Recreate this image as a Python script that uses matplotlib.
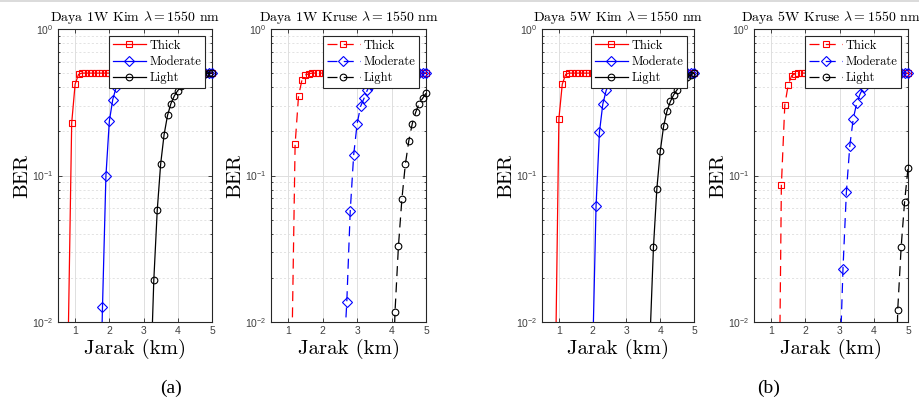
import numpy as np
import matplotlib
matplotlib.use('Agg')
from matplotlib import pyplot as plt
from matplotlib.lines import Line2D
from matplotlib.ticker import LogLocator, NullFormatter

plt.rcParams['font.family'] = ['Liberation Sans', 'DejaVu Sans']
plt.rcParams['axes.unicode_minus'] = True

# jarak (km), shared sampling grid; every series ends at 5.0 km
jarak = [0.5, 0.6, 0.7, 0.8, 0.9, 1.0, 1.1, 1.2, 1.3, 1.4,
         1.5, 1.6, 1.7, 1.8, 1.9, 2.0, 2.1, 2.2, 2.3, 2.4,
         2.5, 2.6, 2.7, 2.8, 2.9, 3.0, 3.1, 3.2, 3.3, 3.4,
         3.5, 3.6, 3.7, 3.8, 3.9, 4.0, 4.1, 4.2, 4.3, 4.4,
         4.5, 4.6, 4.7, 4.8, 4.9, 5.0]

# --- Daya 1W, Kim (starts at 0.8 / 1.7 / 3.2 km)
thick_kim1 = [0.008, 0.228, 0.42, 0.49,
              0.5, 0.5, 0.5, 0.5, 0.5, 0.5, 0.5, 0.5, 0.5, 0.5,
              0.5, 0.5, 0.5, 0.5, 0.5, 0.5, 0.5, 0.5, 0.5, 0.5,
              0.5, 0.5, 0.5, 0.5, 0.5, 0.5, 0.5, 0.5, 0.5, 0.5,
              0.5, 0.5, 0.5, 0.5, 0.5, 0.5, 0.5, 0.5, 0.5]
moderate_kim1 = [0.0013, 0.0126, 0.099, 0.235, 0.33, 0.40, 0.44, 0.465, 0.48, 0.49, 0.495,
                 0.5, 0.5, 0.5, 0.5, 0.5, 0.5, 0.5, 0.5, 0.5, 0.5,
                 0.5, 0.5, 0.5, 0.5, 0.5, 0.5, 0.5, 0.5, 0.5, 0.5,
                 0.5, 0.5, 0.5]
light_kim1 = [0.0037, 0.0194, 0.058, 0.12, 0.19, 0.257, 0.31, 0.35, 0.38, 0.41,
              0.43, 0.45, 0.465, 0.475, 0.485, 0.49, 0.495, 0.5, 0.5]

# --- Daya 1W, Kruse (starts at 1.1 / 2.6 / 4.0 km)
thick_kru1 = [0.005, 0.163, 0.35, 0.45, 0.485, 0.495,
              0.5, 0.5, 0.5, 0.5, 0.5, 0.5, 0.5, 0.5, 0.5, 0.5,
              0.5, 0.5, 0.5, 0.5, 0.5, 0.5, 0.5, 0.5, 0.5, 0.5,
              0.5, 0.5, 0.5, 0.5, 0.5, 0.5, 0.5, 0.5, 0.5, 0.5,
              0.5, 0.5, 0.5, 0.5]
moderate_kru1 = [0.005, 0.0136, 0.057, 0.138, 0.225, 0.296, 0.336, 0.385, 0.417, 0.44,
                 0.46, 0.475, 0.485, 0.49, 0.495,
                 0.5, 0.5, 0.5, 0.5, 0.5, 0.5, 0.5, 0.5, 0.5, 0.5]
light_kru1 = [0.002, 0.0117, 0.033, 0.069, 0.119, 0.172, 0.225, 0.27, 0.31, 0.336, 0.364]

# --- Daya 5W, Kim (starts at 0.9 / 2.0 / 3.7 km)
thick_kim5 = [0.005, 0.244, 0.42, 0.49,
              0.5, 0.5, 0.5, 0.5, 0.5, 0.5, 0.5, 0.5, 0.5, 0.5,
              0.5, 0.5, 0.5, 0.5, 0.5, 0.5, 0.5, 0.5, 0.5, 0.5,
              0.5, 0.5, 0.5, 0.5, 0.5, 0.5, 0.5, 0.5, 0.5, 0.5,
              0.5, 0.5, 0.5, 0.5, 0.5, 0.5, 0.5, 0.5]
moderate_kim5 = [0.006, 0.0616, 0.197, 0.307, 0.381, 0.43, 0.46, 0.475, 0.485, 0.49, 0.495,
                 0.5, 0.5, 0.5, 0.5, 0.5, 0.5, 0.5, 0.5, 0.5, 0.5,
                 0.5, 0.5, 0.5, 0.5, 0.5, 0.5, 0.5, 0.5, 0.5, 0.5]
light_kim5 = [0.008, 0.0325, 0.081, 0.146, 0.217, 0.275, 0.32, 0.356, 0.385, 0.42,
              0.45, 0.47, 0.485, 0.5]

# --- Daya 5W, Kruse (starts at 1.2 / 3.0 / 4.6 km)
thick_kru5 = [0.0004, 0.0857, 0.303, 0.417, 0.48, 0.495,
              0.5, 0.5, 0.5, 0.5, 0.5, 0.5, 0.5, 0.5, 0.5, 0.5,
              0.5, 0.5, 0.5, 0.5, 0.5, 0.5, 0.5, 0.5, 0.5, 0.5,
              0.5, 0.5, 0.5, 0.5, 0.5, 0.5, 0.5, 0.5, 0.5, 0.5,
              0.5, 0.5, 0.5]
moderate_kru5 = [0.0044, 0.023, 0.0776, 0.16, 0.244, 0.311, 0.36, 0.40, 0.43, 0.45,
                 0.465, 0.475, 0.485, 0.49, 0.495,
                 0.5, 0.5, 0.5, 0.5, 0.5, 0.5]
light_kru5 = [0.001, 0.0121, 0.0325, 0.066, 0.112]

series_names = ['Thick', 'Moderate', 'Light']
series_colors = ['#ff0000', '#0000ff', '#000000']
series_markers = ['s', 'D', 'o']

titles = [r'Daya 1W Kim $\lambda = 1550$ nm', r'Daya 1W Kruse $\lambda = 1550$ nm',
          r'Daya 5W Kim $\lambda = 1550$ nm', r'Daya 5W Kruse $\lambda = 1550$ nm']
panel_data = [[thick_kim1, moderate_kim1, light_kim1],
              [thick_kru1, moderate_kru1, light_kru1],
              [thick_kim5, moderate_kim5, light_kim5],
              [thick_kru5, moderate_kru5, light_kru5]]
panel_dashed = [False, True, False, True]
x_ticks = [1, 2, 3, 4, 5]

# axes boxes in pixels: left, right (figure is 920 x 405)
panel_px = [(58, 212), (271, 426), (542, 694), (754, 908)]
sub_labels = [('(a)', 171), ('(b)', 769)]

W, H = 920, 405
fig = plt.figure(figsize=(W / 100, H / 100), dpi=100)
# thin grey border line along the top of the source image
fig.add_artist(Line2D([0, 1], [1 - 0.8 / H, 1 - 0.8 / H], color='#d4d4d4', lw=1.2))

dash_pat = (0, (8, 5))
for (l, r), title, data, dashed in zip(panel_px, titles, panel_data, panel_dashed):
    ax = fig.add_axes([l / W, 1 - 322 / H, (r - l) / W, 293 / H])
    ls = dash_pat if dashed else '-'
    handles = []
    for ber, color, marker in zip(data, series_colors, series_markers):
        x = np.array(jarak[-len(ber):])
        y = np.array(ber)
        ax.plot(x, y, color=color, lw=0.9, ls=ls, zorder=3)
        keep = y >= 1e-2
        ax.plot(x[keep], y[keep], ls='none', marker=marker, ms=4.8, mfc='none',
                mec=color, mew=0.8, clip_on=False, zorder=3)
        handles.append(Line2D([], [], color=color, lw=0.9, ls=ls, marker=marker,
                              ms=4.8, mfc='none', mew=0.8))

    ax.set_yscale('log')
    ax.set_xlim(0.5, 5)
    ax.set_ylim(1e-2, 1)
    ax.set_xticks(x_ticks)
    ax.set_xticklabels([str(t) for t in x_ticks])
    ax.yaxis.set_minor_locator(LogLocator(base=10, subs=np.arange(2, 10)))
    ax.yaxis.set_minor_formatter(NullFormatter())

    ax.grid(True, which='major', color='#dedede', lw=0.7)
    ax.grid(True, which='minor', axis='y', color='#dedede', lw=0.6, ls=(0, (2.5, 2.5)))
    ax.set_axisbelow(True)
    ax.tick_params(which='both', direction='in', top=True, right=True,
                   colors='#262626', labelcolor='#404040', labelsize=7.5, width=0.6)
    ax.tick_params(which='major', length=3, pad=3)
    ax.tick_params(which='minor', length=1.6)
    for sp in ax.spines.values():
        sp.set_color('#262626')
        sp.set_linewidth(0.8)

    ax.set_title(title, family='cmr10', math_fontfamily='cm', fontsize=10, pad=6)
    ax.set_xlabel('Jarak (km)', family='cmr10', fontsize=15, labelpad=2)
    ax.set_ylabel('BER', family='cmr10', fontsize=15, labelpad=1)

    leg = ax.legend(handles, series_names, loc='upper right',
                    prop={'family': 'cmr10', 'size': 9}, fancybox=False,
                    edgecolor='#262626', framealpha=1, borderaxespad=0.55,
                    labelspacing=0.33, borderpad=0.3, handlelength=2.7,
                    handletextpad=0.25)
    leg.get_frame().set_linewidth(0.8)
    leg.set_zorder(5)

for txt, xc in sub_labels:
    fig.text(xc / W, 1 - 388 / H, txt, family='Liberation Serif', fontsize=14,
             ha='center', va='center')

fig.savefig('out.png', dpi=100, facecolor='white')
